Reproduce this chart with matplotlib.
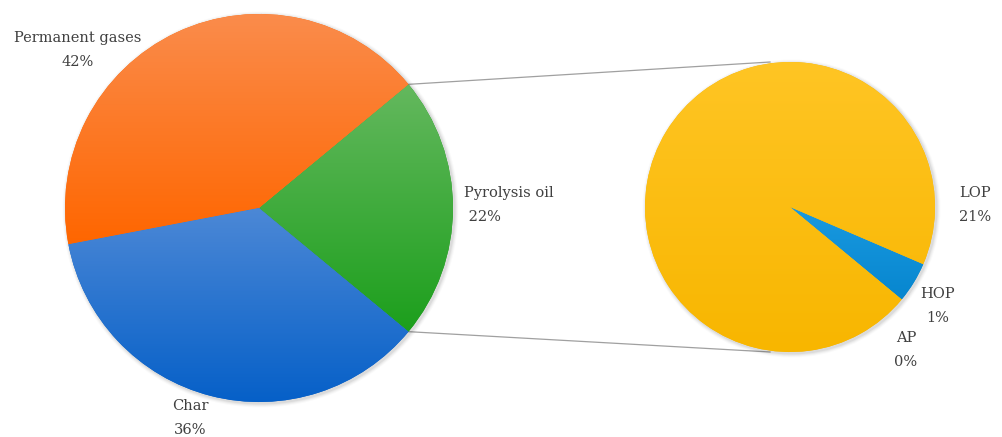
import numpy as np
import matplotlib
matplotlib.use("Agg")
import matplotlib.pyplot as plt
from matplotlib.colors import LinearSegmentedColormap
from matplotlib.patches import Circle

# Product distribution (wt%)
main_labels = ["Pyrolysis oil", "Permanent gases", "Char"]
main_values = [22, 42, 36]
main_top = ["#64b85e", "#fa8c4c", "#4c88d6"]
main_bottom = ["#1c9f1c", "#ff6600", "#0660c8"]

# Pyrolysis oil split
oil_labels = ["AP", "HOP", "LOP"]
oil_values = [0, 1, 21]
oil_top = ["#f4b400", "#1a9ae0", "#ffc524"]
oil_bottom = ["#f4b400", "#0786cf", "#f8b600"]

W, H = 1003, 437
fig = plt.figure(figsize=(W / 100, H / 100), dpi=100)
ax = fig.add_axes([0, 0, 1, 1])

text_kw = dict(fontsize=10.5, color="#404040", family="DejaVu Serif", linespacing=1.95)


def img_y(y):
    return H - y


def gradient_pie(values, center, radius, start, tops, bottoms):
    cx, cy = center
    # soft shadow
    for i, a in enumerate([0.05, 0.04, 0.03, 0.02]):
        ax.add_patch(Circle((cx + 1.5, cy - 1.5), radius + 1 + i, color="k",
                            alpha=a, lw=0, zorder=1))
    wedges, _ = ax.pie(values, startangle=start, counterclock=True, center=center,
                       radius=radius, wedgeprops=dict(linewidth=0))
    grad = np.linspace(0, 1, 256).reshape(-1, 1)
    for w, c0, c1 in zip(wedges, tops, bottoms):
        w.set_facecolor(c1)
        w.set_zorder(2)
        bb = w.get_path().get_extents()
        if bb.height <= 0:
            continue
        cmap = LinearSegmentedColormap.from_list("g", [c0, c1])
        im = ax.imshow(grad, cmap=cmap, aspect="auto", zorder=3,
                       extent=[bb.x0, bb.x1, bb.y0, bb.y1], origin="upper")
        im.set_clip_path(w)
    return wedges


start = -360 * main_values[0] / sum(main_values) / 2
c1 = (259, img_y(208))
r1 = 194
gradient_pie(main_values, c1, r1, start, main_top, main_bottom)

c2 = (790, img_y(207))
r2 = 145
gradient_pie(oil_values, c2, r2, start, oil_top, oil_bottom)

# connector lines from the oil wedge to the second pie
for ang, ty in [(-start, 62), (start, 352)]:
    x0 = c1[0] + r1 * np.cos(np.radians(ang))
    y0 = c1[1] + r1 * np.sin(np.radians(ang))
    ax.plot([x0, 770], [y0, img_y(ty)], color="#a0a0a0", lw=0.9, zorder=0.5)

# labels
ax.text(78, img_y(50), f"{main_labels[1]}\n{main_values[1]}%", ha="center", va="center", **text_kw)
ax.text(464, img_y(205), f"{main_labels[0]}\n {main_values[0]}%", ha="left", va="center", **text_kw)
ax.text(190, img_y(418), f"{main_labels[2]}\n{main_values[2]}%", ha="center", va="center", **text_kw)
ax.text(975, img_y(205), f"{oil_labels[2]}\n{oil_values[2]}%", ha="center", va="center", **text_kw)
ax.text(938, img_y(306), f"{oil_labels[1]}\n{oil_values[1]}%", ha="center", va="center", **text_kw)
ax.text(906, img_y(350), f"{oil_labels[0]}\n{oil_values[0]}%", ha="center", va="center", **text_kw)

ax.set_xlim(0, W)
ax.set_ylim(0, H)
ax.set_aspect("equal")
ax.axis("off")

fig.savefig("out.png", dpi=100)
